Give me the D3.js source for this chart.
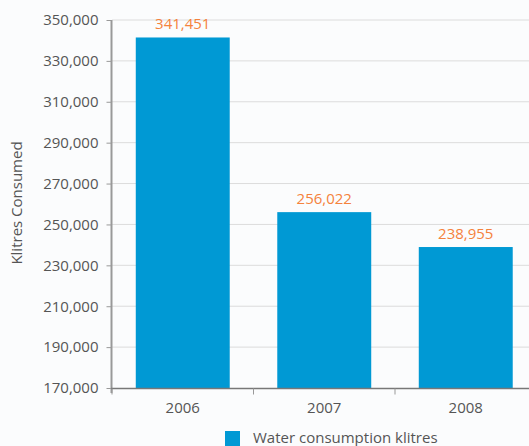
<!DOCTYPE html>
<html>
<head>
<meta charset="utf-8">
<script src="https://cdn.jsdelivr.net/npm/d3@7"></script>
<style>
  body { margin: 0; background: #fff; }
  text { font-family: "Open Sans", sans-serif; }
</style>
</head>
<body>
<script>
// chart data
const years = ["2006", "2007", "2008"];
const consumption = [341451, 256022, 238955];
const yTicks = [170000, 190000, 210000, 230000, 250000, 270000, 290000, 310000, 330000, 350000];
const seriesName = "Water consumption klitres";
const yTitle = "Klitres Consumed";

const W = 529, H = 446;
const FS = 15;
const svg = d3.select("body").append("svg")
    .attr("width", W)
    .attr("height", H);

// background, very light
svg.append("rect").attr("width", W).attr("height", H).attr("fill", "#fbfcfd");

const x = d3.scaleBand()
    .domain(years)
    .range([112, 536.5])
    .paddingInner(0.336)
    .paddingOuter(0.168);

const y = d3.scaleLinear()
    .domain([170000, 350000])
    .range([388, 20]);

// gridlines
svg.append("g")
    .selectAll("line")
    .data(yTicks.slice(1))
    .enter()
    .append("line")
    .attr("x1", 112)
    .attr("x2", W)
    .attr("y1", d => y(d))
    .attr("y2", d => y(d))
    .attr("stroke", "#dcdcdc")
    .attr("stroke-width", 1);

// bars
svg.selectAll("rect.bar")
    .data(consumption)
    .enter()
    .append("rect")
    .attr("class", "bar")
    .attr("x", (d, i) => x(years[i]))
    .attr("y", d => y(d))
    .attr("width", x.bandwidth())
    .attr("height", d => y(170000) - y(d))
    .attr("fill", "#0099d4");

// value labels
svg.selectAll("text.val")
    .data(consumption)
    .enter()
    .append("text")
    .attr("class", "val")
    .attr("x", (d, i) => x(years[i]) + x.bandwidth() / 2)
    .attr("y", d => y(d) - 8)
    .attr("text-anchor", "middle")
    .attr("font-size", FS)
    .attr("fill", "#f5823c")
    .text(d => d3.format(",")(d));

// y axis
const yAxis = svg.append("g")
    .attr("transform", "translate(111.5,0)")
    .call(d3.axisLeft(y).tickValues(yTicks).tickFormat(d3.format(",")).tickSize(5).tickPadding(8));
yAxis.select(".domain").attr("stroke", "#999").attr("stroke-width", 2).attr("d", `M0,${y(350000)}V${y(170000) + 5}`);
yAxis.selectAll(".tick line").attr("stroke", "#999");
yAxis.selectAll(".tick text").attr("font-size", FS).attr("fill", "#555").attr("font-family", "Open Sans, sans-serif");

// x axis (ticks at band boundaries)
const xAxis = svg.append("g")
    .attr("transform", "translate(0,388.5)");
xAxis.append("line")
    .attr("x1", 111).attr("x2", W)
    .attr("stroke", "#777").attr("stroke-width", 1.5);
xAxis.selectAll("line.tk")
    .data(years.concat(["end"]))
    .enter()
    .append("line")
    .attr("class", "tk")
    .attr("x1", (d, i) => 112 + i * x.step())
    .attr("x2", (d, i) => 112 + i * x.step())
    .attr("y1", 0)
    .attr("y2", 6)
    .attr("stroke", "#999");
xAxis.selectAll("text")
    .data(years)
    .enter()
    .append("text")
    .attr("x", d => x(d) + x.bandwidth() / 2)
    .attr("y", 24)
    .attr("text-anchor", "middle")
    .attr("font-size", FS)
    .attr("fill", "#555")
    .text(d => d);

// y axis title
svg.append("text")
    .attr("transform", "translate(22,203) rotate(-90)")
    .attr("text-anchor", "middle")
    .attr("font-size", FS)
    .attr("fill", "#555")
    .text(yTitle);

// legend
svg.append("rect")
    .attr("x", 225).attr("y", 431)
    .attr("width", 15).attr("height", 15)
    .attr("fill", "#0099d4");
svg.append("text")
    .attr("x", 253).attr("y", 443)
    .attr("font-size", FS)
    .attr("fill", "#555")
    .text(seriesName);
</script>
</body>
</html>
